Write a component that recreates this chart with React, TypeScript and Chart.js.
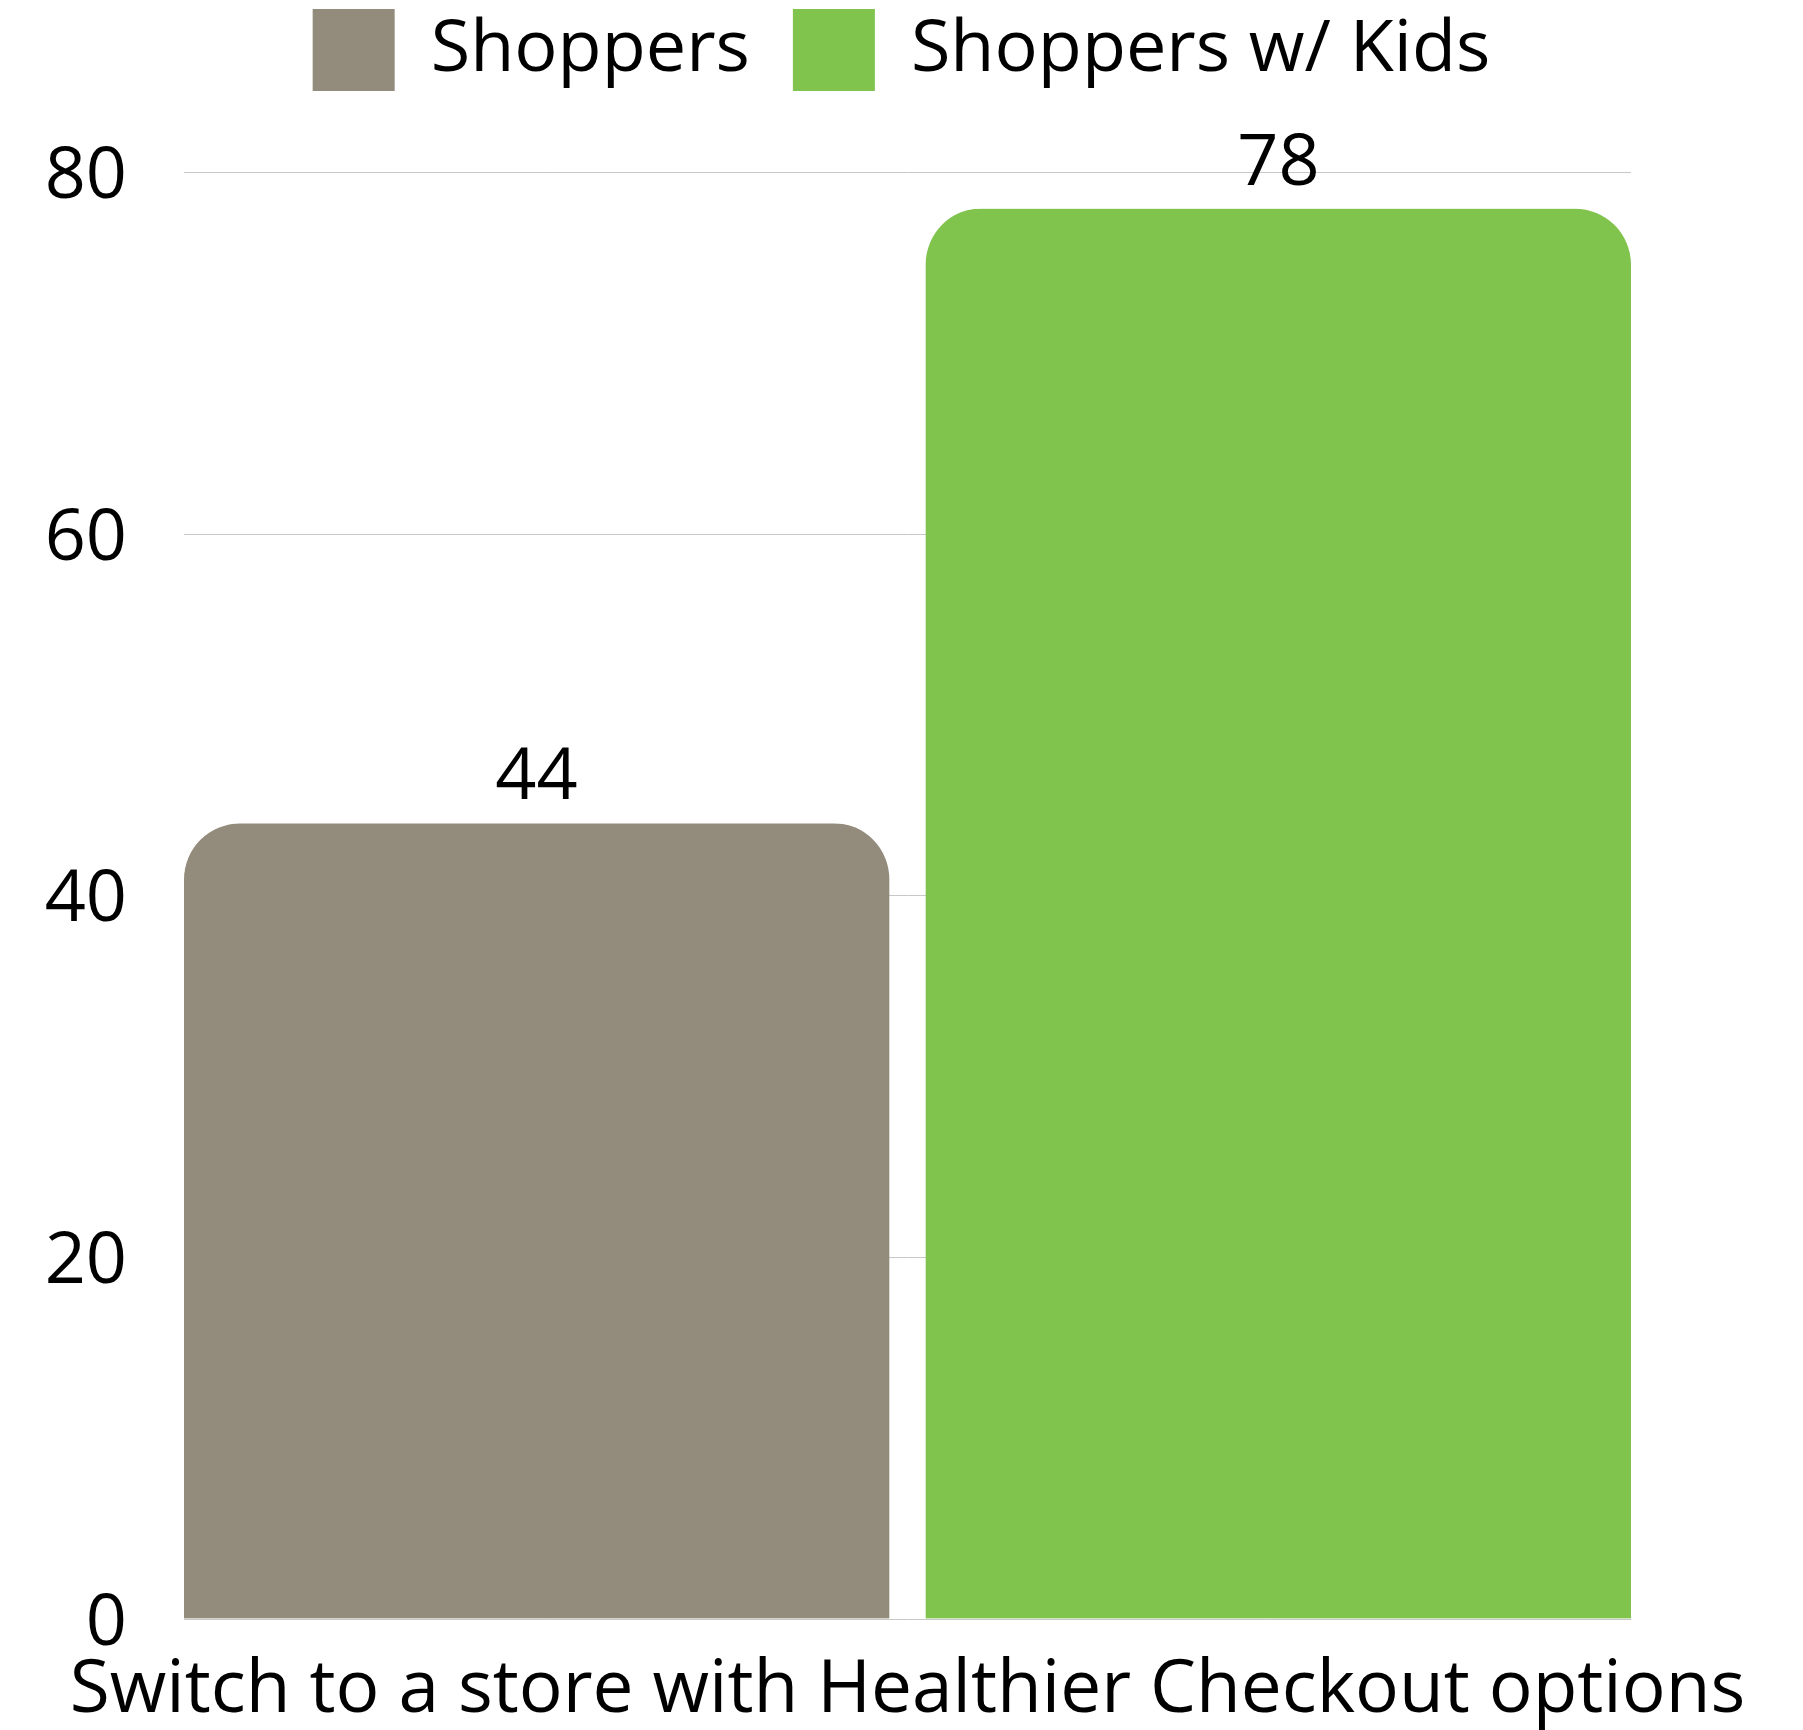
import React, { useEffect, useRef } from "react";
import { Chart, registerables } from "chart.js";

Chart.register(...registerables);

const categories = ["Switch to a store with Healthier Checkout options"];
const seriesNames = ["Shoppers", "Shoppers w/ Kids"];
const shoppersValues = [44];
const shoppersWithKidsValues = [78];
const yTickValues = [0, 20, 40, 60, 80];

const FONT = "'Open Sans', sans-serif";
const GRAY = "#938b7b";
const GREEN = "#80c44e";
const GAP = 37;
const RADIUS = 56;

export default function App() {
  const ref = useRef<HTMLCanvasElement>(null);

  useEffect(() => {
    if (!ref.current) return;

    const legendSpacing = {
      id: "legendSpacing",
      beforeInit(chart: any) {
        const legend = chart.legend;
        if (!legend) return;
        const origFit = legend.fit;
        legend.fit = function () {
          origFit.bind(legend)();
          this.height += 71.5;
        };
      },
    };

    const valueLabels = {
      id: "valueLabels",
      afterDatasetsDraw(chart: any) {
        const ctx = chart.ctx;
        ctx.save();
        ctx.font = `72px ${FONT}`;
        ctx.fillStyle = "#000";
        ctx.textAlign = "center";
        ctx.textBaseline = "alphabetic";
        chart.data.datasets.forEach((ds: any, i: number) => {
          const meta = chart.getDatasetMeta(i);
          meta.data.forEach((el: any, j: number) => {
            const shift = i === 0 ? -GAP / 4 : GAP / 4;
            ctx.fillText(String(ds.data[j]), el.x + shift, el.y - 24);
          });
        });
        ctx.restore();
      },
    };

    const chart = new Chart(ref.current, {
      type: "bar",
      data: {
        labels: categories,
        datasets: [
          {
            label: seriesNames[0],
            data: shoppersValues,
            backgroundColor: GRAY,
            borderColor: "rgba(0,0,0,0)",
            borderWidth: { top: 0, left: 0, bottom: 0, right: GAP / 2 },
            borderRadius: { topLeft: RADIUS, topRight: RADIUS + GAP / 2, bottomLeft: 0, bottomRight: 0 },
            borderSkipped: "start",
          },
          {
            label: seriesNames[1],
            data: shoppersWithKidsValues,
            backgroundColor: GREEN,
            borderColor: "rgba(0,0,0,0)",
            borderWidth: { top: 0, left: GAP / 2, bottom: 0, right: 0 },
            borderRadius: { topLeft: RADIUS + GAP / 2, topRight: RADIUS, bottomLeft: 0, bottomRight: 0 },
            borderSkipped: "start",
          },
        ],
      },
      options: {
        responsive: false,
        animation: false,
        devicePixelRatio: 1,
        layout: { padding: { top: -34, left: 0, right: 0, bottom: 0 } },
        datasets: { bar: { categoryPercentage: 1, barPercentage: 1 } },
        plugins: {
          tooltip: { enabled: false },
          legend: {
            display: true,
            position: "top",
            align: "center",
            labels: {
              boxWidth: 82,
              boxHeight: 82,
              padding: 43,
              color: "#000",
              font: { family: FONT, size: 72 },
            },
          },
        },
        scales: {
          x: {
            grid: { display: false },
            border: { display: false },
            ticks: { color: "#000", padding: 20, font: { family: FONT, size: 73 } },
            afterFit(scale: any) {
              scale.height = 111;
              scale.paddingLeft = 0;
              scale.paddingRight = 0;
            },
          },
          y: {
            min: 0,
            max: 80,
            grid: { color: "#c8c8c8", lineWidth: 1, drawTicks: false },
            border: { display: false },
            ticks: { color: "#000", padding: 57, labelOffset: 5, font: { family: FONT, size: 72 } },
            afterBuildTicks(scale: any) {
              scale.ticks = yTickValues.map((v) => ({ value: v }));
            },
            afterFit(scale: any) {
              scale.width = 184;
            },
          },
          yRight: {
            position: "right",
            display: true,
            grid: { display: false },
            border: { display: false },
            ticks: { display: false },
            afterFit(scale: any) {
              scale.width = 172;
              scale.paddingTop = 0;
              scale.paddingBottom = 0;
            },
          },
        },
      } as any,
      plugins: [legendSpacing, valueLabels],
    });

    return () => chart.destroy();
  }, []);

  return (
    <div style={{ position: "absolute", left: 0, top: 0, width: 1803, height: 1730, background: "#fff" }}>
      <canvas ref={ref} width={1803} height={1730} style={{ display: "block" }} />
    </div>
  );
}
